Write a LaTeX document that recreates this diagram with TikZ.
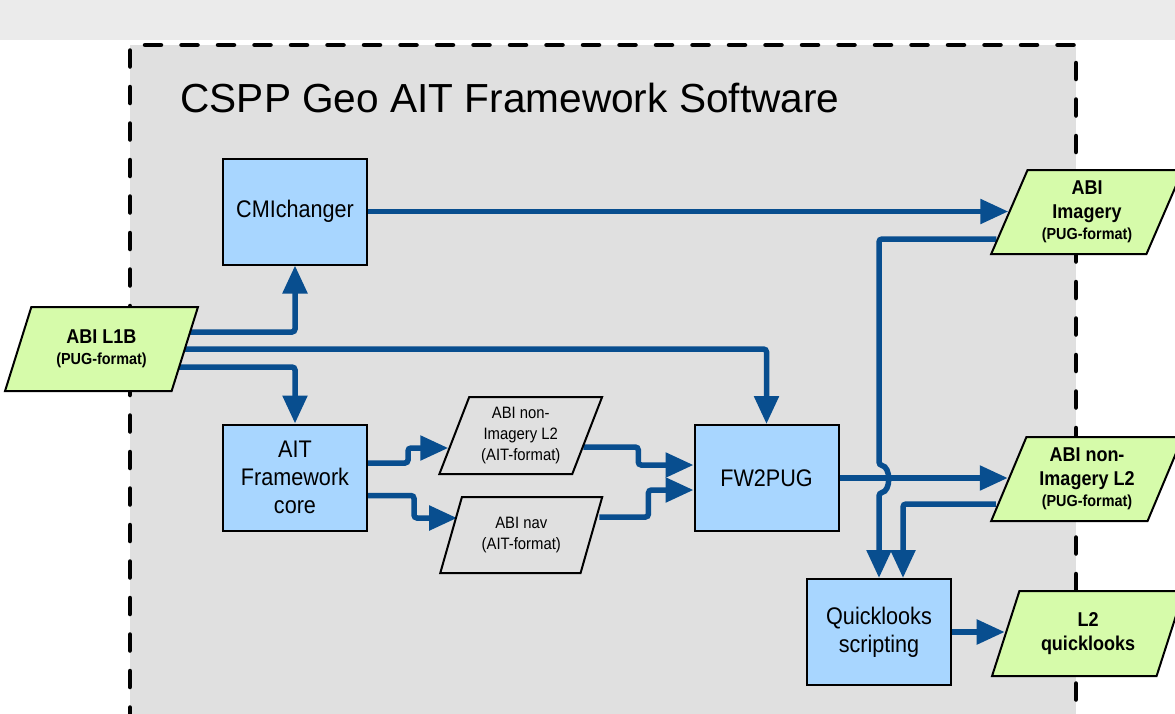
\documentclass[tikz,border=0pt]{standalone}
\usepackage{fontspec}
\setmainfont{Liberation Sans}
\newfontfamily\narrowfont[FakeStretch=0.9]{Liberation Sans}
\usetikzlibrary{shapes.geometric, arrows.meta, calc}
\definecolor{flowblue}{RGB}{8,78,143}
\definecolor{boxblue}{RGB}{168,214,255}
\definecolor{pugreen}{RGB}{214,251,170}
\definecolor{bggray}{RGB}{224,224,224}
\definecolor{bandgray}{RGB}{235,235,235}
\pgfdeclarelayer{back}
\pgfdeclarelayer{wires}
\pgfsetlayers{back,wires,main}
\tikzset{
  % processing block
  procbox/.style={
    rectangle, draw=black, line width=2pt, fill=boxblue,
    minimum width=144pt, minimum height=106pt, align=center,
    font=\narrowfont\fontsize{24}{28}\selectfont
  },
  % data product (parameterized by fill colour)
  dataprod/.style={
    trapezium, trapezium left angle=66, trapezium right angle=114,
    trapezium stretches=true, draw=black, line width=2pt, fill=#1,
    minimum width=192pt, minimum height=84pt, align=center, inner sep=0pt
  },
  pugfont/.style={font=\narrowfont\bfseries\fontsize{20}{24}\selectfont},
  aitfont/.style={font=\narrowfont\fontsize{16.5}{21}\selectfont},
  flow/.style={-{Triangle[length=28pt,width=24pt]}, line width=5.5pt,
    color=flowblue, rounded corners=3pt},
  frame/.style={draw=black, line width=4.5pt, line cap=round,
    dash pattern=on 16pt off 20.5pt}
}
\newcommand{\pugsub}{\fontsize{16}{18}\selectfont}

\begin{document}
\begin{tikzpicture}[x=1pt, y=-1pt]
  \clip (0,0) rectangle (1175,713);

  % Backdrop and framework boundary
  \begin{pgfonlayer}{back}
    \fill[bandgray] (0,0) rectangle (1175,40);
    \fill[bggray] (130,45) rectangle (1076,760);
    \draw[frame] (130,760) -- (130,45) -- (1076,45) -- (1076,760);
  \end{pgfonlayer}

  \node[anchor=base west, font=\fontsize{40.6}{48}\selectfont] (title) at (177,112)
    {CSPP Geo AIT Framework Software};

  % Processing blocks
  \node[procbox] (cmi) at (295,211.5) {CMIchanger};
  \node[procbox] (ait) at (295,477.5) {AIT\\Framework\\core};
  \node[procbox] (fw) at (766.5,478) {FW2PUG};
  \node[procbox] (ql) at (879,632) {Quicklooks\\scripting};

  % Data products
  \node[dataprod=pugreen, pugfont, minimum width=193pt] (l1b) at (101.5,349)
    {ABI L1B\\[-3pt]{\pugsub(PUG-format)}};
  \node[dataprod=bggray, aitfont, minimum width=163pt, minimum height=77pt,
    trapezium left angle=68, trapezium right angle=112] (nonimgait) at (520.75,435.5)
    {ABI non-\\Imagery L2\\(AIT-format)};
  \node[dataprod=bggray, aitfont, minimum width=162pt, minimum height=76pt,
    trapezium left angle=68, trapezium right angle=112] (nav) at (521.25,535)
    {ABI nav\\(AIT-format)};
  \node[dataprod=pugreen, pugfont] (abiimg) at (1087,212)
    {ABI\\Imagery\\[-3pt]{\pugsub(PUG-format)}};
  \node[dataprod=pugreen, pugfont] (nonimgpug) at (1087,479)
    {ABI non-\\Imagery L2\\[-3pt]{\pugsub(PUG-format)}};
  \node[dataprod=pugreen, pugfont, minimum height=85pt] (l2ql) at (1088,633.5)
    {L2\\quicklooks};

  % Connectors
  \begin{pgfonlayer}{wires}
    \draw[flow] ($(l1b.center)+(0,-17)$) -| (cmi.south);
    \draw[flow] (l1b.center) -| (fw.north);
    \draw[flow] ($(l1b.center)+(0,18)$) -| (ait.north);
    \draw[flow] ($(ait.east)+(0,-14.5)$) -- ++(40,0) |- ($(nonimgait.west)+(-5,12.5)$);
    \draw[flow] ($(ait.east)+(0,18)$) -- ++(46,0) |- ($(nav.west)+(7,-17)$);
    \draw[flow] ($(nonimgait.east)+(-5,11.5)$) -- ++(55,0) |- ($(fw.west)+(0,-13)$);
    \draw[flow] ($(nav.east)+(7,-18)$) -- ++(49,0) |- ($(fw.west)+(0,12)$);
    \draw[flow] (cmi.east) -- (cmi.east -| abiimg.west);
    \draw[flow] (fw.east) -- (fw.east -| nonimgpug.west);
    \draw[flow] ($(abiimg.west)+(-12,27)$) -| ($(ql.north)+(0,-113)$)
      .. controls +(12,2) and +(12,-2) .. ++(0,28) -- (ql.north);
    \draw[flow] ($(nonimgpug.west)+(-12,25)$) -| ($(ql.north)+(24,0)$);
    \draw[flow] (ql.east) -- (ql.east -| l2ql.west);
  \end{pgfonlayer}
\end{tikzpicture}
\end{document}
